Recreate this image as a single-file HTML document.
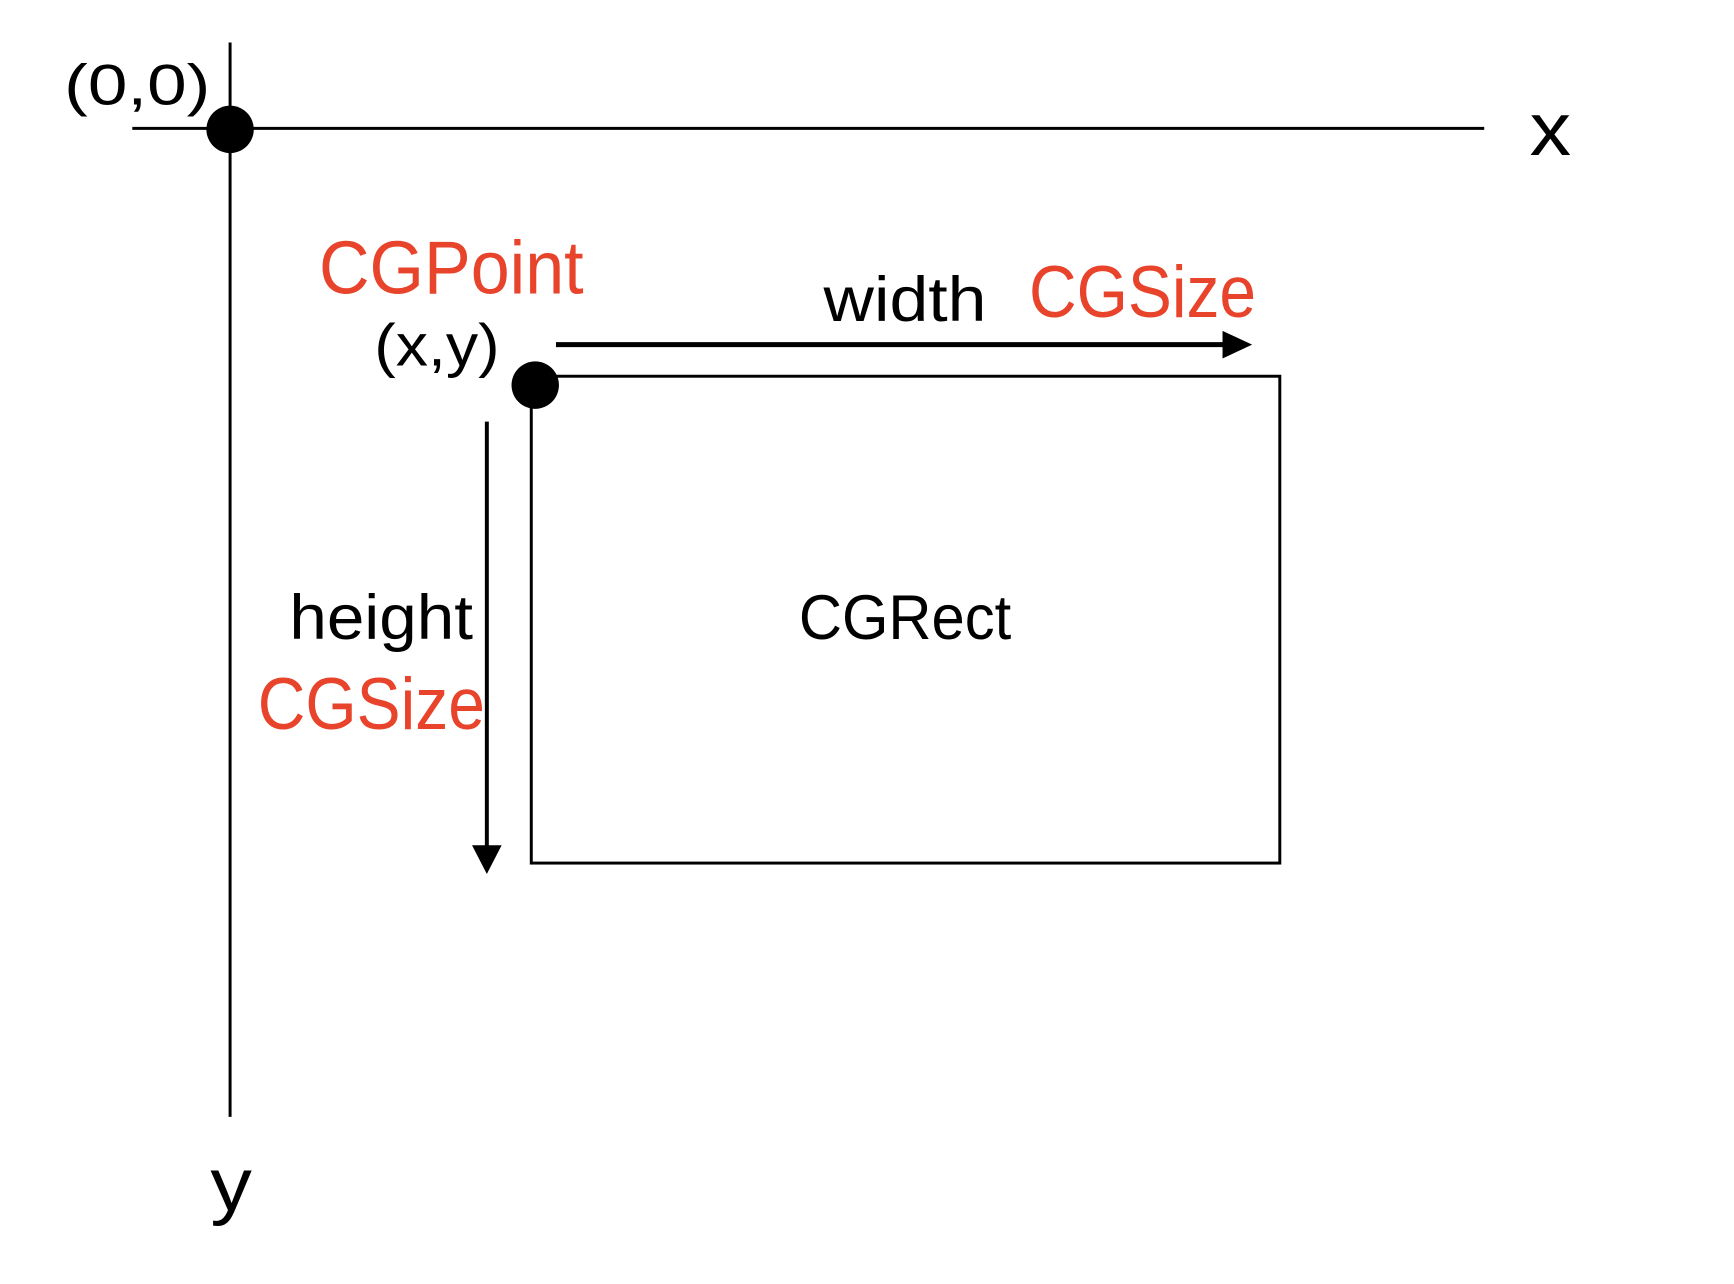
<!DOCTYPE html>
<html><head><meta charset="utf-8"><style>
html,body{margin:0;padding:0;background:#fff;}
svg{display:block;}
text{font-family:"Liberation Sans",sans-serif;}
</style></head><body>
<svg width="1734" height="1284" viewBox="0 0 1734 1284" xmlns="http://www.w3.org/2000/svg">
<g transform="scale(0.9875)">
<line x1="134" y1="130" x2="1503" y2="130" stroke="#000" stroke-width="3"/>
<line x1="233" y1="43" x2="233" y2="1131" stroke="#000" stroke-width="3"/>
<circle cx="233" cy="131" r="24" fill="#000"/>
<rect x="538" y="381" width="758" height="493" fill="none" stroke="#000" stroke-width="3"/>
<circle cx="542" cy="390" r="24" fill="#000"/>
<line x1="563" y1="349" x2="1245" y2="349" stroke="#000" stroke-width="5"/>
<polygon points="1238,335 1268,349 1238,363" fill="#000"/>
<line x1="493" y1="427" x2="493" y2="862" stroke="#000" stroke-width="4"/>
<polygon points="478,856 493,885 508,856" fill="#000"/>
<text x="65" y="106" font-size="58" textLength="148" lengthAdjust="spacingAndGlyphs">(0,0)</text>
<text x="1549" y="157" font-size="76" textLength="42" lengthAdjust="spacingAndGlyphs">x</text>
<text x="323" y="297" font-size="76" fill="#e8432b" textLength="268" lengthAdjust="spacingAndGlyphs">CGPoint</text>
<text x="379" y="370" font-size="60" textLength="127" lengthAdjust="spacingAndGlyphs">(x,y)</text>
<text x="834" y="325" font-size="64" textLength="165" lengthAdjust="spacingAndGlyphs">width</text>
<text x="1042" y="321" font-size="74" fill="#e8432b" textLength="230" lengthAdjust="spacingAndGlyphs">CGSize</text>
<text x="809" y="647" font-size="64" textLength="215" lengthAdjust="spacingAndGlyphs">CGRect</text>
<text x="293" y="647" font-size="64" textLength="186" lengthAdjust="spacingAndGlyphs">height</text>
<text x="261" y="738" font-size="74" fill="#e8432b" textLength="230" lengthAdjust="spacingAndGlyphs">CGSize</text>
<text x="213" y="1226" font-size="76" textLength="42" lengthAdjust="spacingAndGlyphs">y</text>
</g>
</svg>
</body></html>
